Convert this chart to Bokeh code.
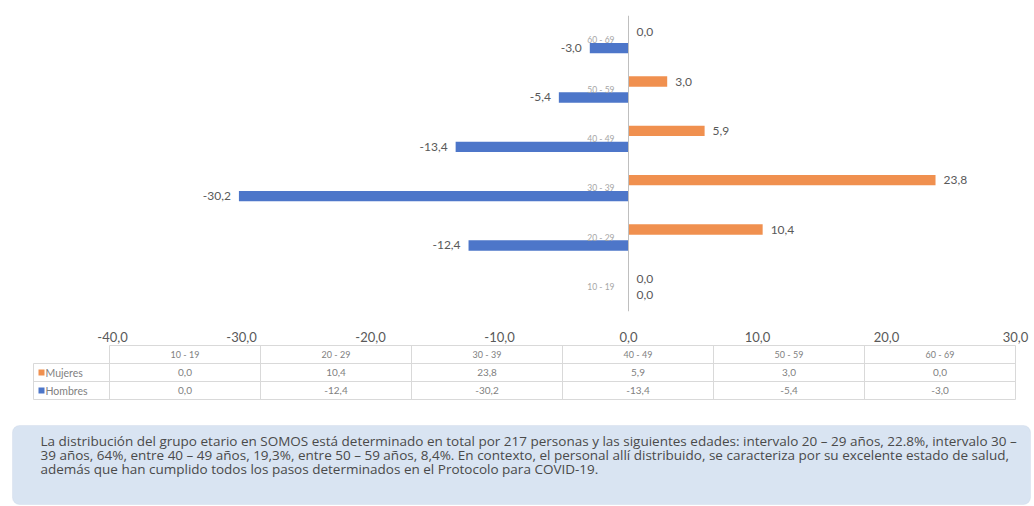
from bokeh.plotting import figure
from bokeh.models import (FactorRange, Range1d, CategoricalAxis, LinearAxis, FixedTicker,
                          CustomJSTickFormatter, BoxAnnotation, ColumnDataSource)
from bokeh.transform import dodge
from bokeh.layouts import column
from bokeh.embed import file_html
from bokeh.resources import INLINE
from bokeh.core.properties import value

# ---------------- data ----------------
categories = ["10 - 19", "20 - 29", "30 - 39", "40 - 49", "50 - 59", "60 - 69"]
mujeres = [0.0, 10.4, 23.8, 5.9, 3.0, 0.0]
hombres = [0.0, -12.4, -30.2, -13.4, -5.4, -3.0]
series_names = ["Mujeres", "Hombres"]
x_ticks = [-40, -30, -20, -10, 0, 10, 20, 30]
note_lines = [
    "La distribución del grupo etario en SOMOS está determinado en total  por 217 personas y las siguientes edades: intervalo 20 – 29 años, 22.8%, intervalo 30 –",
    "39 años, 64%,  entre 40 – 49 años, 19,3%, entre 50 – 59 años, 8,4%. En contexto, el personal allí distribuido, se caracteriza por su excelente estado de salud,",
    "además que han cumplido todos los pasos determinados en el Protocolo para COVID-19.",
]

# ---------------- style ----------------
ORANGE = "#F0904F"
BLUE = "#4D76C9"
FONT = "Lato"
GRAY = "#595959"
W = 1034
PX = 12.9      # pixels per unit on the value axis
ZERO = 628     # pixel position of 0 inside the figure


def fmt(v):
    return f"{v:.1f}".replace(".", ",")


src = ColumnDataSource(dict(
    cat=categories, m=mujeres, h=hombres,
    ml=[fmt(v) for v in mujeres], hl=[fmt(v) for v in hombres],
    h_align=["right" if v < 0 else "left" for v in hombres],
    h_off=[-8 if v < 0 else 8 for v in hombres],
))

# ---------------- chart ----------------
p = figure(frame_width=W, frame_height=296,
           y_range=FactorRange(*categories, range_padding=0),
           x_range=Range1d(-ZERO / PX, (W - ZERO) / PX),
           output_backend="svg", toolbar_location=None,
           min_border_left=0, min_border_right=0, min_border_top=15, min_border_bottom=32,
           x_axis_location=None, y_axis_location=None)
p.outline_line_color = None
p.grid.visible = False
p.background_fill_color = "white"

p.hbar(y=dodge("cat", 0.162, range=p.y_range), left=0, right="m", height=0.21,
       color=ORANGE, line_color=None, source=src)
p.hbar(y=dodge("cat", -0.162, range=p.y_range), left=0, right="h", height=0.21,
       color=BLUE, line_color=None, source=src)

p.text(x="m", y=dodge("cat", 0.162, range=p.y_range), text="ml", x_offset=8,
       text_align="left", text_baseline="middle", text_font=value(FONT),
       text_font_size="12px", text_color=GRAY, source=src)
p.text(x="h", y=dodge("cat", -0.162, range=p.y_range), text="hl", x_offset="h_off",
       text_align="h_align", text_baseline="middle", text_font=value(FONT),
       text_font_size="12px", text_color=GRAY, source=src)

ya = CategoricalAxis(fixed_location=0, axis_line_color="#BFBFBF",
                     major_tick_line_color=None, minor_tick_line_color=None,
                     major_label_text_font=FONT, major_label_text_font_size="8.5px",
                     major_label_text_color="#A6A6A6", major_label_standoff=8)
p.add_layout(ya, "left")

xa = LinearAxis(ticker=FixedTicker(ticks=x_ticks),
                formatter=CustomJSTickFormatter(code="return tick.toFixed(1).replace('.', ',');"),
                axis_line_color=None, major_tick_line_color=None, minor_tick_line_color=None,
                major_label_standoff=14, major_label_text_font=FONT,
                major_label_text_font_size="13px", major_label_text_color=GRAY)
p.add_layout(xa, "below")

# ---------------- data table ----------------
COL0 = 109      # left edge of first data column (px)
COLW = 151      # column width px
ROWH = 18
TH = 58
ncat = len(categories)
leg_x = (33 - COL0) / COLW

t = figure(frame_width=W, frame_height=TH,
           x_range=Range1d(-COL0 / COLW, (W - COL0) / COLW),
           y_range=Range1d((TH - 1) / ROWH, -1 / ROWH),
           output_backend="svg", toolbar_location=None, min_border=0,
           x_axis_location=None, y_axis_location=None)
t.outline_line_color = None
t.grid.visible = False

LINE = "#D9D9D9"
hx0 = [0] + [leg_x] * 3
t.segment(x0=hx0, x1=[ncat] * 4, y0=[0, 1, 2, 3], y1=[0, 1, 2, 3], line_color=LINE, line_width=1)
vx = list(range(ncat + 1)) + [leg_x]
t.segment(x0=vx, x1=vx, y0=[0] * (ncat + 1) + [1], y1=[3] * (ncat + 2), line_color=LINE, line_width=1)

xc = [i + 0.5 for i in range(ncat)]
t.text(x=xc, y=[0.5] * ncat, text=categories, text_align="center", text_baseline="middle",
       text_font=value(FONT), text_font_size="9px", text_color="#7F7F7F")
t.text(x=xc, y=[1.5] * ncat, text=[fmt(v) for v in mujeres], text_align="center",
       text_baseline="middle", text_font=value(FONT), text_font_size="10px", text_color="#7F7F7F")
t.text(x=xc, y=[2.5] * ncat, text=[fmt(v) for v in hombres], text_align="center",
       text_baseline="middle", text_font=value(FONT), text_font_size="10px", text_color="#7F7F7F")
t.scatter(x=[leg_x + 8 / COLW] * 2, y=[1.5, 2.5], marker="square", size=6,
          color=[ORANGE, BLUE], line_color=None)
t.text(x=[leg_x + 12 / COLW] * 2, y=[1.5, 2.5], text=series_names, text_align="left",
       text_baseline="middle", text_font=value(FONT), text_font_size="10.5px", text_color="#7F7F7F")

# ---------------- note box ----------------
NH = 105
n = figure(frame_width=W, frame_height=NH,
           x_range=Range1d(0, W), y_range=Range1d(NH, 0),
           output_backend="svg", toolbar_location=None, min_border=0,
           x_axis_location=None, y_axis_location=None)
n.outline_line_color = None
n.grid.visible = False
n.add_layout(BoxAnnotation(left=12, right=W - 4, top=23, bottom=NH - 3,
                           fill_color="#D9E4F2", fill_alpha=1.0, level="underlay",
                           line_color="#C3D1E6", line_width=1, border_radius=7))
n.text(x=[40] * len(note_lines), y=[38 + 14 * i for i in range(len(note_lines))],
       text=note_lines, text_align="left", text_baseline="middle",
       text_font=value("Open Sans"), text_font_size="13.5px", text_color="#4A4A4A")

layout = column(p, t, n, spacing=0)
open("out.html", "w").write(file_html(layout, INLINE))
